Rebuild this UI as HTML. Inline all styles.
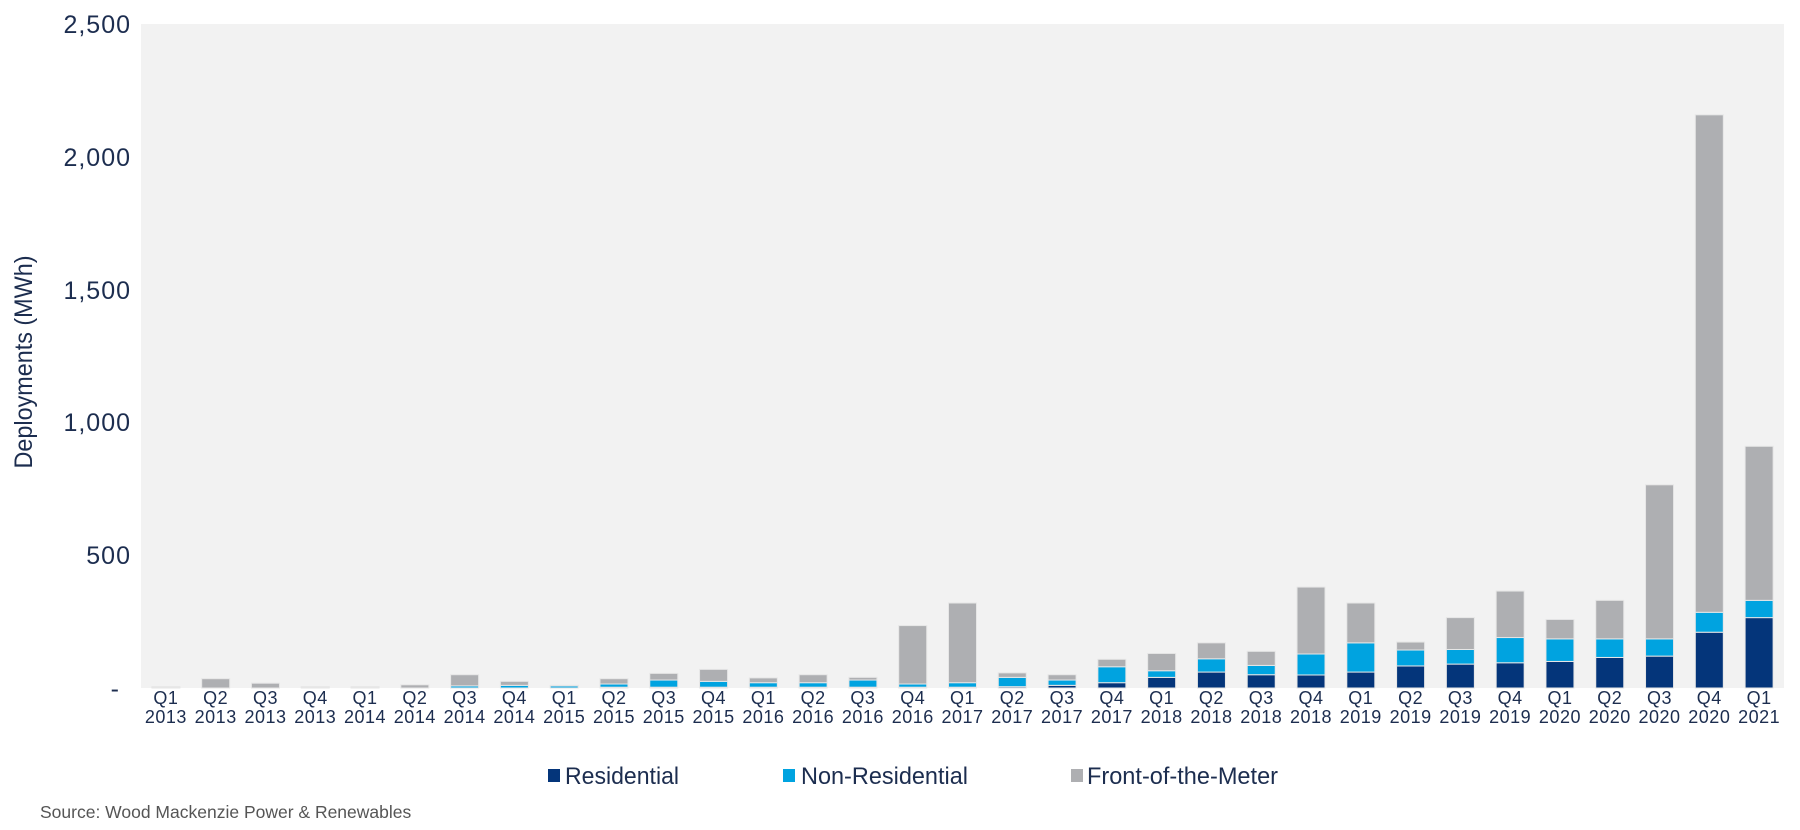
<!DOCTYPE html>
<html><head><meta charset="utf-8"><style>
html,body{margin:0;padding:0;background:#fff;}
svg{display:block;font-family:"Liberation Sans",Arial,sans-serif;}
</style></head><body>
<svg width="1800" height="830" viewBox="0 0 1800 830" xmlns="http://www.w3.org/2000/svg">
<rect x="141" y="24" width="1643" height="664" fill="#f2f2f2"/>
<g fill="#1c2d4f" font-size="25" text-anchor="end" letter-spacing="1">
<text x="131" y="33">2,500</text>
<text x="131" y="166">2,000</text>
<text x="131" y="299">1,500</text>
<text x="131" y="431">1,000</text>
<text x="131" y="564">500</text>
<text x="120" y="697">-</text>
</g>
<text transform="translate(32,362) rotate(-90)" fill="#1c2d4f" font-size="25" text-anchor="middle" textLength="213" lengthAdjust="spacingAndGlyphs">Deployments (MWh)</text>
<g id="bars" stroke="#e6e6e6" stroke-width="1"></g>
<g id="labels" fill="#1c2d4f" font-size="18" text-anchor="middle" letter-spacing="0.5"></g>
<g font-size="24" fill="#1c2d4f">
<rect x="548" y="769" width="12" height="13" fill="#04357a"/>
<text x="565" y="784" textLength="114" lengthAdjust="spacingAndGlyphs">Residential</text>
<rect x="783" y="769" width="12" height="13" fill="#00a3e0"/>
<text x="801" y="784" textLength="167" lengthAdjust="spacingAndGlyphs">Non-Residential</text>
<rect x="1071" y="769" width="12" height="13" fill="#aeafb2"/>
<text x="1087" y="784" textLength="191" lengthAdjust="spacingAndGlyphs">Front-of-the-Meter</text>
</g>
<text x="40" y="818" font-size="17.5" fill="#555">Source: Wood Mackenzie Power &amp; Renewables</text>
<script>
var d=[[0,3,5],[0,0,35],[0,0,18],[0,3,5],[0,3,5],[0,0,12],[0,8,50],[0,10,25],[0,8,10],[3,15,35],[3,30,55],[3,25,70],[3,20,38],[3,20,50],[3,30,40],[3,15,235],[3,20,320],[5,40,57],[10,30,50],[20,80,108],[40,65,130],[60,110,170],[50,85,138],[49,128,380],[60,170,320],[83,143,173],[90,145,265],[95,190,365],[100,185,258],[115,185,330],[120,185,765],[210,285,2158],[265,330,910]];
var ns="http://www.w3.org/2000/svg",b=document.getElementById("bars"),l=document.getElementById("labels");
var y0=688,k=664/2500,bw=1643/33,w=28;
var q=["Q1","Q2","Q3","Q4"];
function r(x,ya,yb,c){if(yb<=ya)return;var e=document.createElementNS(ns,"rect");e.setAttribute("x",x);e.setAttribute("y",y0-yb*k);e.setAttribute("width",w);e.setAttribute("height",(yb-ya)*k);e.setAttribute("fill",c);b.appendChild(e);}
d.forEach(function(v,i){var cx=141+(i+0.5)*bw,x=cx-w/2;
r(x,0,v[0],"#04357a");r(x,v[0],v[1],"#00a3e0");r(x,v[1],v[2],"#aeafb2");
var t=document.createElementNS(ns,"text");t.setAttribute("x",cx);t.setAttribute("y",704);t.textContent=q[i%4];l.appendChild(t);
var t2=document.createElementNS(ns,"text");t2.setAttribute("x",cx);t2.setAttribute("y",723);t2.textContent=2013+Math.floor(i/4);l.appendChild(t2);});
</script>
</svg>
</body></html>
